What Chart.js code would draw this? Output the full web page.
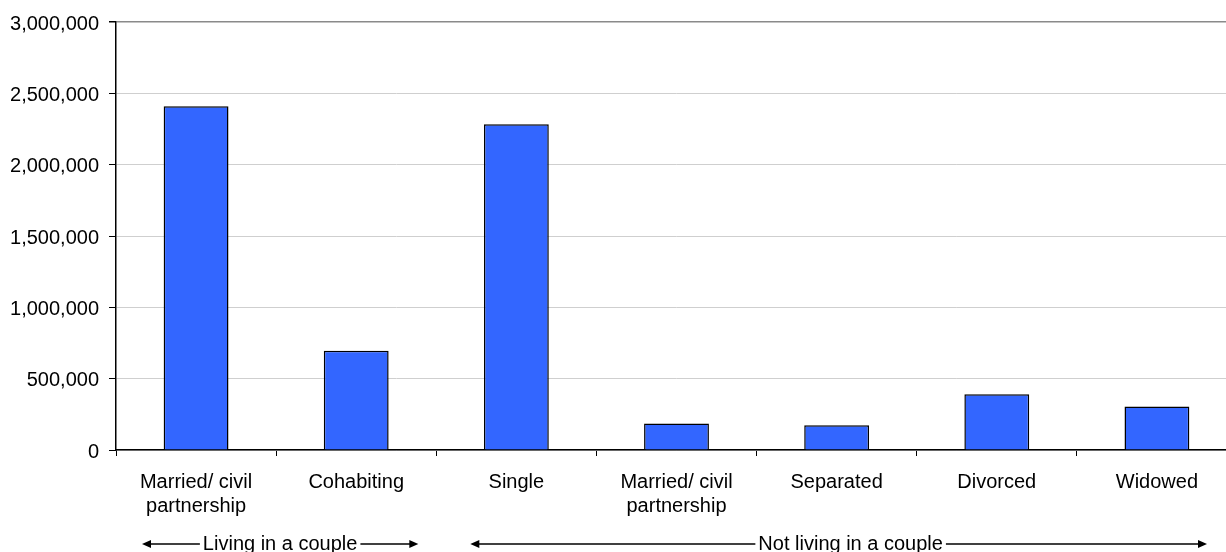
<!DOCTYPE html>
<html>
<head>
<meta charset="utf-8">
<script src="https://cdn.jsdelivr.net/npm/chart.js@4/dist/chart.umd.min.js"></script>
<style>
  html, body { margin: 0; padding: 0; background: #fff; overflow: hidden; }
  #wrap { position: relative; width: 1240px; height: 552px; }
</style>
</head>
<body>
<div id="wrap"><canvas id="c"></canvas></div>
<script>
// ---- data ----
const categories = [
  ['Married/ civil', 'partnership'],
  'Cohabiting',
  'Single',
  ['Married/ civil', 'partnership'],
  'Separated',
  'Divorced',
  'Widowed'
];
const values = [2410000, 695000, 2283000, 186000, 174000, 391000, 305000];
const yTicks = [0, 500000, 1000000, 1500000, 2000000, 2500000, 3000000];
const groupLabels = ['Living in a couple', 'Not living in a couple'];
const groupFirst = [0, 2];
const groupLast = [1, 6];

const FONT = '"Liberation Sans", Arial, Helvetica, sans-serif';

const groupPlugin = {
  id: 'groups',
  afterDraw(chart, args, opts) {
    const ctx = chart.ctx;
    const x = chart.scales.x;
    const half = (x.getPixelForValue(1) - x.getPixelForValue(0)) / 2;
    const y = opts.y;
    ctx.save();
    ctx.font = '20px ' + FONT;
    ctx.fillStyle = '#000';
    ctx.strokeStyle = '#000';
    ctx.lineWidth = 1.5;
    ctx.textBaseline = 'middle';
    ctx.textAlign = 'center';
    groupLabels.forEach((lab, i) => {
      const l = x.getPixelForValue(groupFirst[i]) - half + opts.insetL[i];
      const r = x.getPixelForValue(groupLast[i]) + half - opts.insetR[i];
      const cx = (l + r) / 2 + opts.textShift[i];
      const w = ctx.measureText(lab).width;
      ctx.fillText(lab, cx, y);
      const tl = cx - w / 2 - opts.gap;
      const tr = cx + w / 2 + opts.gap;
      // left arrow
      ctx.beginPath(); ctx.moveTo(l + 6, y); ctx.lineTo(tl, y); ctx.stroke();
      ctx.beginPath(); ctx.moveTo(l, y); ctx.lineTo(l + 9, y - 4); ctx.lineTo(l + 9, y + 4); ctx.closePath(); ctx.fill();
      // right arrow
      ctx.beginPath(); ctx.moveTo(tr, y); ctx.lineTo(r - 6, y); ctx.stroke();
      ctx.beginPath(); ctx.moveTo(r, y); ctx.lineTo(r - 9, y - 4); ctx.lineTo(r - 9, y + 4); ctx.closePath(); ctx.fill();
    });
    ctx.restore();
  }
};

new Chart(document.getElementById('c'), {
  type: 'bar',
  data: {
    labels: categories,
    datasets: [{
      data: values,
      backgroundColor: '#3366FF',
      borderColor: '#000000',
      borderWidth: 1.5,
      barPercentage: 0.405,
      categoryPercentage: 1.0
    }]
  },
  options: {
    responsive: true,
    maintainAspectRatio: false,
    animation: false,
    layout: { padding: { top: 21, right: 3, left: 0, bottom: 0 } },
    plugins: {
      legend: { display: false },
      tooltip: { enabled: false },
      groups: { y: 544, insetL: [26, 34], insetR: [18, 30], textShift: [0, 12], gap: 3 }
    },
    scales: {
      x: {
        offset: true,
        grid: {
          offset: true,
          drawOnChartArea: false,
          drawTicks: true,
          tickLength: 6,
          tickColor: '#000',
          tickWidth: 1
        },
        border: { color: '#000', width: 1.5 },
        ticks: {
          color: '#000',
          font: { family: FONT, size: 20 },
          padding: 14,
          maxRotation: 0,
          autoSkip: false
        },
        afterFit(s) { s.height = 102; }
      },
      y: {
        min: 0,
        max: 3000000,
        afterBuildTicks(s) { s.ticks = yTicks.map(v => ({ value: v })); },
        grid: {
          color: (c) => (c.tick && c.tick.value === 3000000) ? '#8a8a8a' : '#cfcfcf',
          lineWidth: (c) => (c.tick && c.tick.value === 3000000) ? 1.5 : 1,
          tickLength: 7,
          tickColor: '#000',
          drawTicks: true
        },
        border: { color: '#000', width: 1.5 },
        ticks: {
          color: '#000',
          font: { family: FONT, size: 20 },
          padding: 10,
          labelOffset: 2,
          callback: (v) => Number(v).toLocaleString('en-US')
        },
        afterFit(s) { s.width = 116; }
      }
    }
  },
  plugins: [groupPlugin]
});
</script>
</body>
</html>
